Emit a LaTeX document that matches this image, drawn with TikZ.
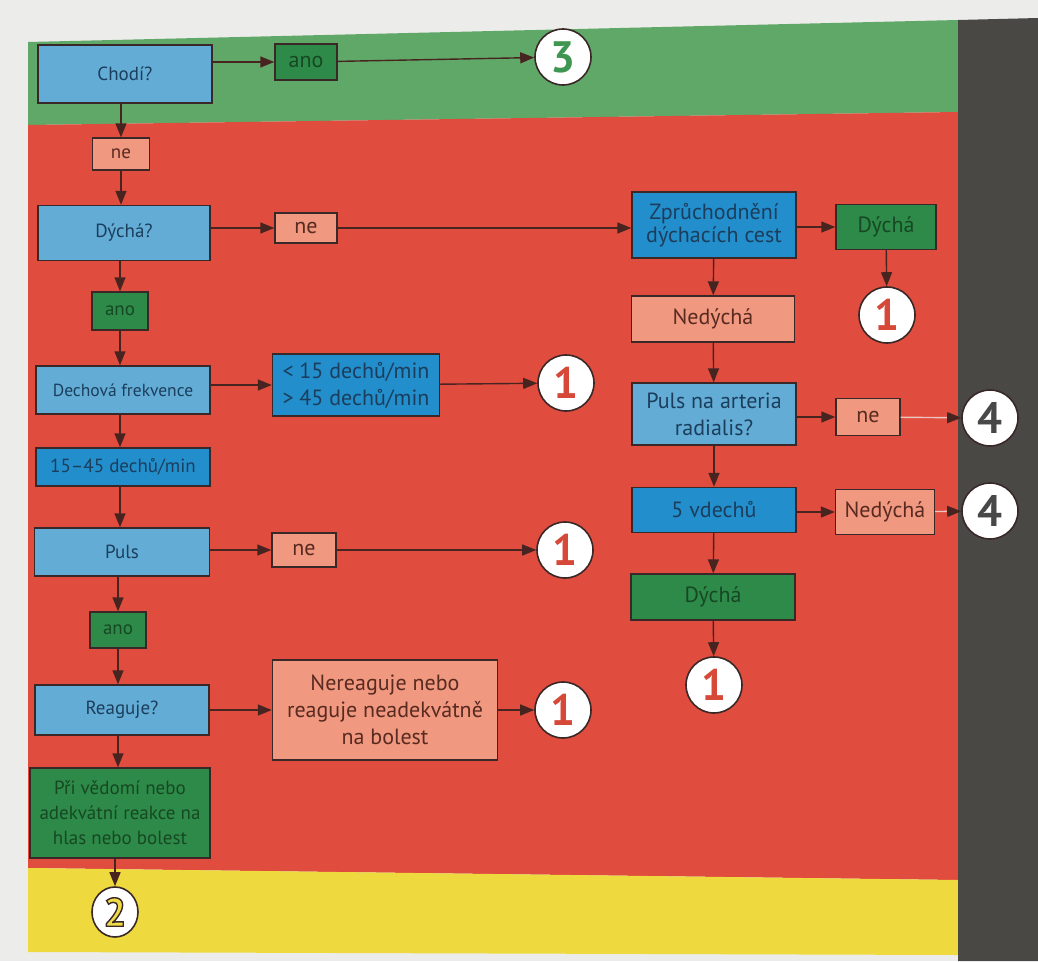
\documentclass[tikz,border=0pt]{standalone}
\usepackage{fontspec}
\setmainfont{PT Sans}
\usetikzlibrary{arrows.meta,shapes.geometric}
\definecolor{pagebg}{RGB}{236,236,234}
\definecolor{bandgreen}{RGB}{96,168,104}
\definecolor{bandred}{RGB}{224,76,62}
\definecolor{bandyellow}{RGB}{238,218,62}
\definecolor{banddark}{RGB}{74,72,68}
\definecolor{lblue}{RGB}{98,172,214}
\definecolor{dblue}{RGB}{34,142,204}
\definecolor{gbox}{RGB}{46,138,72}
\definecolor{sbox}{RGB}{240,152,128}
\definecolor{edge}{RGB}{58,40,40}
\definecolor{arrowcol}{RGB}{72,36,32}
\definecolor{bluetext}{RGB}{28,62,92}
\definecolor{greentext}{RGB}{22,72,36}
\definecolor{salmontext}{RGB}{88,42,32}
\definecolor{numred}{RGB}{214,72,56}
\definecolor{numgreen}{RGB}{62,150,82}
\definecolor{numgray}{RGB}{72,72,72}
\definecolor{numyellow}{RGB}{240,220,70}
\definecolor{lightline}{RGB}{236,196,190}
\newcommand{\outlinetext}[1]{\special{pdf:literal direct q 2 Tr 1.4 w 0.23 0.16 0.16 RG}#1\special{pdf:literal direct Q}}
\begin{document}
\begin{tikzpicture}[x=1pt,y=-1pt,
  box/.style={draw=edge, line width=1.4pt, align=center, inner sep=2pt,
    font=\fontsize{19}{25}\selectfont},
  big/.style={font=\fontsize{22}{27}\selectfont},
  lb/.style={box, fill=lblue, text=bluetext},
  db/.style={box, fill=dblue, text=bluetext},
  gb/.style={box, fill=gbox, text=greentext},
  sb/.style={box, fill=sbox, text=salmontext},
  sz/.style 2 args={minimum width=#1, minimum height=#2},
  num/.style={circle, draw=edge, line width=1.6pt, fill=white, minimum size=56pt,
    inner sep=0pt, font=\fontsize{44}{44}\selectfont\bfseries},
  arr/.style={draw=arrowcol, line width=1.4pt, -{Triangle[length=14pt,width=11pt]}},
  larr/.style={draw=lightline, line width=1.4pt, -{Triangle[length=14pt,width=11pt,color=arrowcol]}}
]
\useasboundingbox (0,0) rectangle (1038,961);
\fill[pagebg] (0,0) rectangle (1038,961);
% bands
\fill[bandgreen] (28,42) -- (958,20) -- (958,112) -- (28,125) -- cycle;
\fill[bandred] (28,125) -- (958,112) -- (958,880) -- (28,868) -- cycle;
\fill[bandyellow] (28,868) -- (958,880) -- (958,955) -- (28,952) -- cycle;
\fill[banddark] (958,20) -- (1038,18) -- (1038,961) -- (958,961) -- cycle;

% left column
\node[lb, sz={174pt}{58pt}] (chodi) at (125,74) {Chodí?};
\node[gb, sz={62pt}{36pt}, big] (ano1) at (306,62) {ano};
\node[num, text=numgreen] (c3) at (563,57) {3};
\node[sb, sz={57pt}{32pt}] (ne1) at (121,154) {ne};
\node[lb, sz={172pt}{55pt}] (dycha) at (124,233) {Dýchá?};
\node[sb, sz={62pt}{30pt}, big] (ne2) at (306,228) {ne};
\node[gb, sz={56pt}{38pt}] (ano2) at (120,311) {ano};
\node[lb, sz={174pt}{48pt}, font=\fontsize{17.5}{21}\selectfont] (dech) at (123,390) {Dechová frekvence};
\node[db, sz={167pt}{62pt}, big] (rate) at (356,385) {< 15 dechů/min\\> 45 dechů/min};
\node[num, text=numred] (c1c) at (566,383) {1};
\node[db, sz={174pt}{38pt}] (r1545) at (123,467) {15–45 dechů/min};
\node[lb, sz={175pt}{48pt}] (puls) at (122,552) {Puls};
\node[sb, sz={64pt}{34pt}, big] (ne4) at (304,550) {ne};
\node[num, text=numred] (c1d) at (565,550) {1};
\node[gb, sz={56pt}{36pt}] (ano3) at (118,630) {ano};
\node[lb, sz={174pt}{50pt}] (reag) at (122,710) {Reaguje?};
\node[sb, sz={225pt}{100pt}, big] (nereag) at (385,710) {Nereaguje nebo\\reaguje neadekvátně\\na bolest};
\node[num, text=numred] (c1e) at (563,710) {1};
\node[gb, sz={180pt}{90pt}] (pri) at (120,813) {Při vědomí nebo\\adekvátní reakce na\\hlas nebo bolest};
\node[ellipse, draw=edge, line width=1.6pt, fill=white, minimum width=46pt, minimum height=50pt, inner sep=0pt,
  text=numyellow, font=\fontsize{40}{40}\selectfont\bfseries] (c2) at (115,912) {\outlinetext{2}};

% right column
\node[db, sz={164pt}{66pt}, font=\fontsize{22}{23}\selectfont] (zpr) at (714,225) {Zprůchodnění\\dýchacích cest};
\node[gb, sz={100pt}{45pt}, big] (dycha2) at (886,227) {Dýchá};
\node[num, text=numred] (c1a) at (887,315) {1};
\node[sb, sz={163pt}{46pt}, big] (nedycha1) at (713,319) {Nedýchá};
\node[lb, sz={164pt}{62pt}, big] (pulsar) at (714,414) {Puls na arteria\\radialis?};
\node[sb, sz={64pt}{37pt}, big] (ne3) at (868,417) {ne};
\node[num, text=numgray] (c4a) at (990,418) {4};
\node[db, sz={164pt}{45pt}, big] (vdech) at (714,510) {5 vdechů};
\node[sb, sz={99pt}{45pt}, big] (nedycha2) at (885,512) {Nedýchá};
\node[num, text=numgray] (c4b) at (990,511) {4};
\node[gb, sz={164pt}{46pt}, big] (dycha3) at (713,597) {Dýchá};
\node[num, text=numred] (c1b) at (714,685) {1};

% connectors: left column
\draw[arr] (chodi.east |- ano1.west) -- (ano1.west);
\draw[arr] (ano1) -- (c3);
\draw[arr] (chodi.south -| ne1.north) -- (ne1.north);
\draw[arr] (ne1) -- (ne1 |- dycha.north);
\draw[arr] (dycha.east |- ne2.west) -- (ne2.west);
\draw[arr] (ne2.east) -- (ne2.east -| zpr.west);
\draw[arr] (dycha.south -| ano2.north) -- (ano2.north);
\draw[arr] (ano2) -- (ano2 |- dech.north);
\draw[arr] (dech.east |- rate.west) -- (rate.west);
\draw[arr] (rate) -- (c1c);
\draw[arr] (dech.south -| ano2.south) -- (ano2.south |- r1545.north);
\draw[arr] (r1545.south -| ano2.south) -- (ano2.south |- puls.north);
\draw[arr] (puls.east |- ne4.west) -- (ne4.west);
\draw[arr] (ne4) -- (c1d);
\draw[arr] (puls.south -| ano3.north) -- (ano3.north);
\draw[arr] (ano3) -- (ano3 |- reag.north);
\draw[arr] (reag) -- (nereag);
\draw[arr] (nereag) -- (c1e);
\draw[arr] (reag.south -| ano3.south) -- (ano3.south |- pri.north);
\draw[arr] (pri.south -| c2.north) -- (c2.north);

% connectors: right column
\draw[arr] (zpr.east |- dycha2.west) -- (dycha2.west);
\draw[arr] (dycha2) -- (c1a);
\draw[arr] (zpr) -- (nedycha1);
\draw[arr] (nedycha1) -- (pulsar);
\draw[arr] (pulsar.east |- ne3.west) -- (ne3.west);
\draw[larr] (ne3) -- (c4a);
\draw[arr] (pulsar) -- (vdech);
\draw[arr] (vdech.east |- nedycha2.west) -- (nedycha2.west);
\draw[larr] (nedycha2) -- (c4b);
\draw[arr] (vdech) -- (dycha3);
\draw[arr] (dycha3) -- (c1b);
\end{tikzpicture}
\end{document}
